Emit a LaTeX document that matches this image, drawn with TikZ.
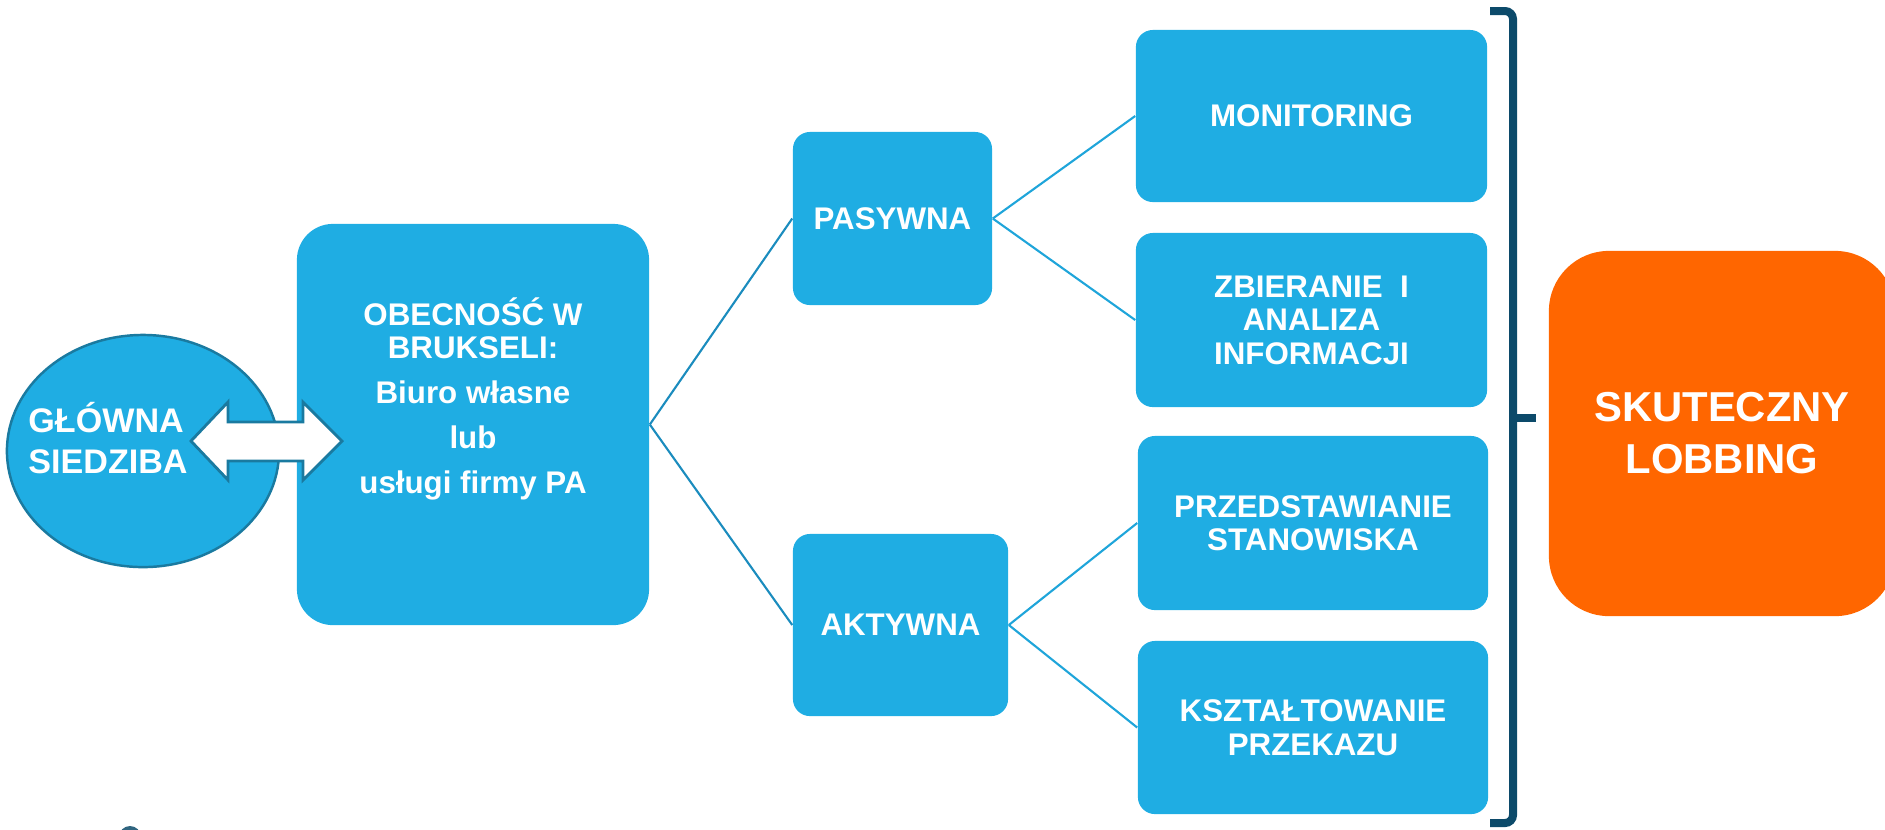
\documentclass[tikz,border=0pt]{standalone}
\usepackage{fontspec}
\setmainfont{Liberation Sans}
\usetikzlibrary{shapes.geometric}
\definecolor{boxblue}{RGB}{31,173,227}
\definecolor{edgeblue}{RGB}{26,122,160}
\definecolor{lineblue}{RGB}{27,140,190}
\definecolor{twigblue}{RGB}{31,165,218}
\definecolor{bracenavy}{RGB}{12,74,106}
\definecolor{lobbyorange}{RGB}{255,102,0}
\tikzset{
  box/.style={fill=boxblue, rounded corners=0.17cm, text=white, align=center,
    font=\bfseries\fontsize{8.9}{9.5}\selectfont, inner sep=0pt},
  twig/.style={draw=twigblue, line width=0.6pt},
  stem/.style={draw=lineblue, line width=0.6pt},
}

\begin{document}
\begin{tikzpicture}[x=0.01cm,y=-0.01cm]
          \clip (0,0) rectangle (1885,829);
          % siedziba i biuro
          \node[ellipse, fill=boxblue, draw=edgeblue, line width=0.7pt,
                minimum width=2.72cm, minimum height=2.32cm] (hq) at (143,451) {};
          \node[text=white, align=left, inner sep=0pt,
                font=\bfseries\fontsize{9.7}{11.4}\selectfont] (hqtext) at (108,438) {GŁÓWNA\\SIEDZIBA};
          \node[box, rounded corners=0.36cm, minimum width=3.52cm, minimum height=4.01cm] (office) at (473,424.5) {};
          \node[text=white, align=center, inner sep=0pt,
                font=\bfseries\fontsize{8.9}{9.5}\selectfont] (officetext) at (473,399)
                {OBECNOŚĆ W\\BRUKSELI:\\[3.3pt]Biuro własne\\[3.3pt]lub\\[3.3pt]usługi firmy PA};
          \draw[edgeblue, fill=white, line width=0.8pt, line join=miter]
                (191,441) -- (228,402) -- (228,422) -- (303,422) -- (303,402) -- (342,441)
                -- (303,480) -- (303,461) -- (228,461) -- (228,480) -- cycle;
          % formy obecnosci
          \node[box, minimum width=1.99cm, minimum height=1.73cm] (passive) at (892.5,218.5) {PASYWNA};
          \node[box, minimum width=2.15cm, minimum height=1.82cm] (active) at (900.5,625) {AKTYWNA};
          \node[box, minimum width=3.51cm, minimum height=1.72cm] (monitor) at (1311.5,116) {MONITORING};
          \node[box, minimum width=3.51cm, minimum height=1.74cm] (gather) at (1311.5,320) {ZBIERANIE~~I\\ANALIZA\\INFORMACJI};
          \node[box, minimum width=3.50cm, minimum height=1.74cm] (present) at (1313,523) {PRZEDSTAWIANIE\\STANOWISKA};
          \node[box, minimum width=3.50cm, minimum height=1.73cm] (message) at (1313,727.5) {KSZTAŁTOWANIE\\PRZEKAZU};
          \node[fill=lobbyorange, rounded corners=0.6cm, minimum width=3.46cm, minimum height=3.65cm,
                text=white, align=center, inner sep=0pt,
                font=\bfseries\fontsize{11.9}{14.8}\selectfont] (goal) at (1722,433.5) {SKUTECZNY\\LOBBING};
          \draw[stem] (office.east) -- (passive.west);
          \draw[stem] (office.east) -- (active.west);
          \draw[twig] (passive.east) -- (monitor.west);
          \draw[twig] (passive.east) -- (gather.west);
          \draw[twig] (active.east) -- (present.west);
          \draw[twig] (active.east) -- (message.west);
          % klamra
          \draw[bracenavy, line width=0.08cm, rounded corners=0.08cm]
                (1490,11) -- (1513,11) -- (1513,823) -- (1490,823);
          \draw[bracenavy, line width=0.08cm] (1513,418) -- (1536,418);
          \fill[bracenavy!85] (130,837) ellipse (0.11cm and 0.11cm);
\end{tikzpicture}
\end{document}
